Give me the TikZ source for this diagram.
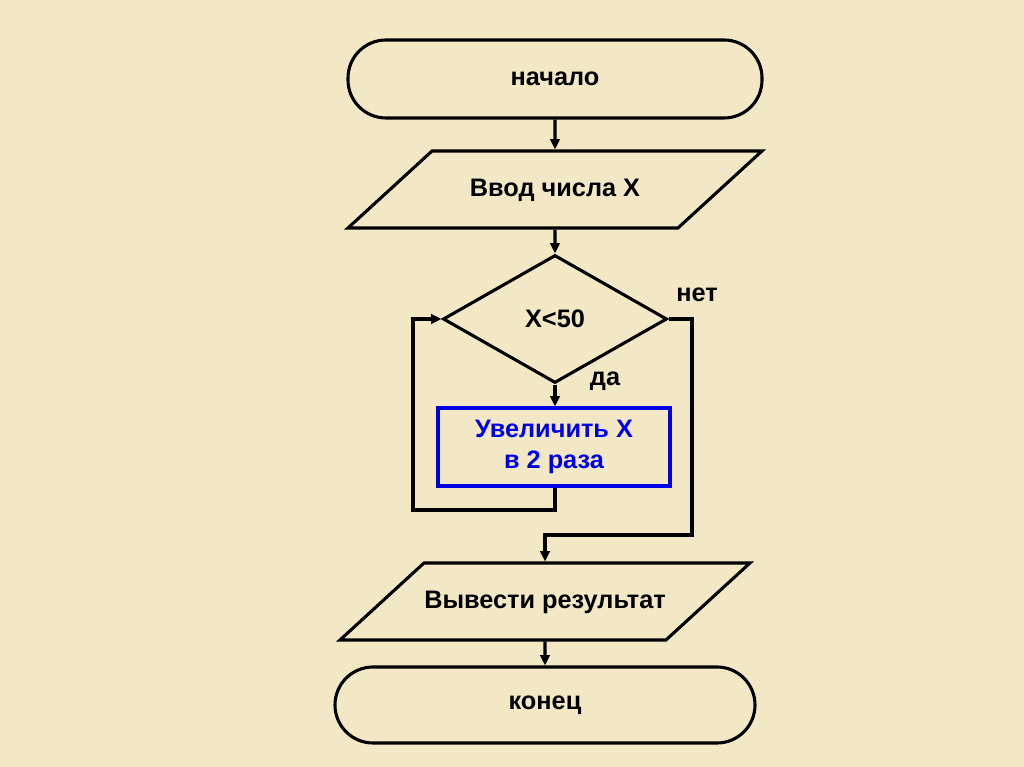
\documentclass[tikz,border=0pt]{standalone}
\usepackage{fontspec}
\setmainfont{Liberation Sans}
\usepackage{xcolor}
\usetikzlibrary{arrows.meta,positioning,calc,shapes.geometric}
\definecolor{Paper}{HTML}{F3E8C6}
\definecolor{Ink}{HTML}{000000}
\definecolor{BoxBlue}{HTML}{0000E6}
\newcommand{\chartfont}{\fontsize{18}{22}\selectfont\bfseries}
\tikzset{terminal/.style={rectangle,rounded corners=0.95cm,draw=Ink,line width=2.2pt,minimum width=10.35cm,minimum height=1.95cm,align=center,text=Ink,font=\chartfont},io/.style={trapezium,trapezium left angle=42.5,trapezium right angle=137.5,trapezium stretches body,draw=Ink,line width=2.2pt,minimum width=10.35cm,text height=0.5cm,text depth=0.15cm,inner xsep=0pt,inner ysep=0.6375cm,text=Ink,font=\chartfont},check/.style={diamond,draw=Ink,line width=2.2pt,minimum width=5.6cm,minimum height=3.2cm,inner sep=0pt,align=center,text=Ink,font=\chartfont},action/.style={rectangle,draw=BoxBlue,line width=2.2pt,minimum width=5.8cm,minimum height=1.95cm,align=center,text=BoxBlue,font=\chartfont},flow/.style={draw=Ink,line width=2.2pt,-{Triangle[length=2.6mm,width=2.4mm]}},tag/.style={text=Ink,font=\chartfont}}
\begin{document}
\begin{tikzpicture}[x=1cm,y=1cm]
\useasboundingbox (0,0) rectangle (25.6,19.175);
\fill[Paper] (0,0) rectangle (25.6,19.175);
\node[terminal] (S) at (13.875,17.2) {начало};
\node[io] (In) at (13.875,14.4375) {Ввод числа X};
\node[check] (D) at (13.875,11.2) {X<50};
\node[action] (A) at (13.85,8.0) {Увеличить X\\в 2 раза};
\node[io,minimum width=10.25cm] (Out) at (13.625,4.1375) {Вывести результат};
\node[terminal,minimum width=10.5cm,minimum height=1.9cm] (E) at (13.625,1.55) {конец};
\coordinate (loopL) at (10.325,6.425);
\coordinate (noR) at (17.3,5.8);
\draw[flow] (S) -- (In);
\draw[flow] (In) -- (D);
\draw[flow] (D.south) -- (A.north -| D.south);
\draw[flow] (A.south -| D.south) |- (loopL) |- (D.west);
\draw[flow] (D.east) -| (noR) -| (Out.north);
\draw[flow] (Out) -- (E);
\node[tag] (yes) at (15.125,9.65) {да};
\node[tag] (no) at (17.425,11.8) {нет};
\end{tikzpicture}
\end{document}
